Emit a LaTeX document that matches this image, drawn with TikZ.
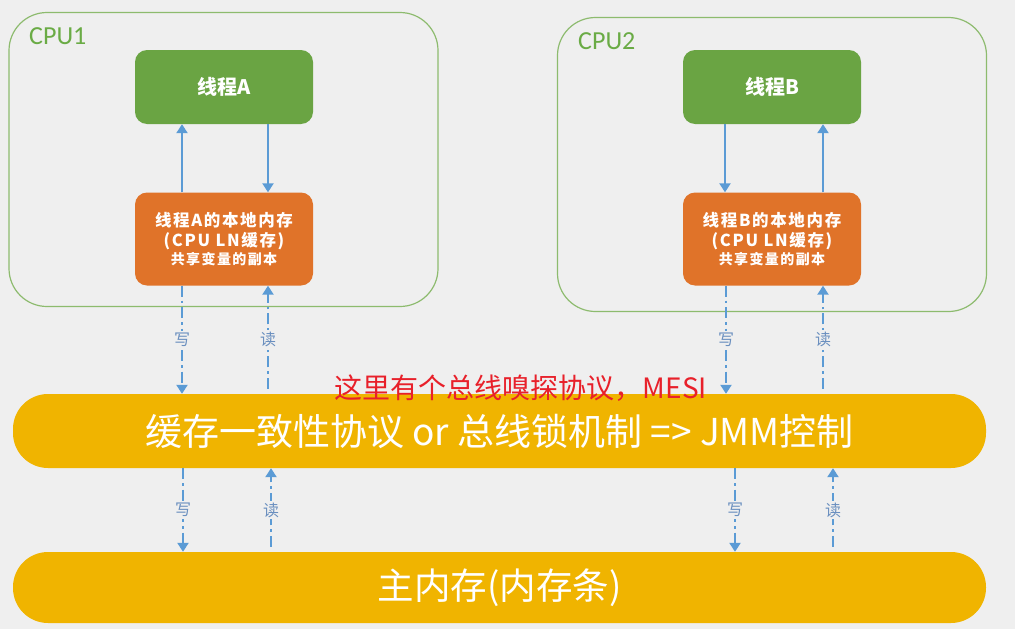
\documentclass[tikz,border=0pt]{standalone}
\usepackage{fontspec}
\setmainfont{Noto Sans CJK SC}
\newfontfamily\cpufont{Carlito}
\newfontfamily\spcfont[LetterSpace=10]{Noto Sans CJK SC}
\usetikzlibrary{arrows.meta,positioning}
\definecolor{bgray}{HTML}{EFEFEF}
\definecolor{cpuline}{HTML}{8DBB6E}
\definecolor{cpugreen}{HTML}{6AAB45}
\definecolor{thrgreen}{HTML}{6AA443}
\definecolor{locorange}{HTML}{E07329}
\definecolor{busgold}{HTML}{F0B400}
\definecolor{arrblue}{HTML}{5B9BD5}
\definecolor{lblblue}{HTML}{6A8FBF}
\definecolor{notered}{HTML}{E8202A}

\begin{document}
\begin{tikzpicture}[x=1pt,y=-1pt,
  cpu/.style={draw=cpuline,line width=1.2pt,rounded corners=38pt,minimum width=429pt,minimum height=294pt},
  cpuname/.style={anchor=west,inner sep=0pt,text=cpugreen,font=\cpufont\fontsize{26}{30}\selectfont},
  thr/.style={fill=thrgreen,rounded corners=12pt,minimum width=178pt,minimum height=74pt,text=white,font=\fontsize{20}{24}\selectfont\bfseries},
  loc/.style={fill=locorange,rounded corners=12pt,minimum width=178pt,minimum height=93pt,text=white,align=center,font=\spcfont\bfseries},
  band/.style={fill=busgold,rounded corners=35pt,minimum width=973pt,text=white},
  ln/.style={arrblue,line width=2.5pt,-{Triangle[width=11pt,length=9pt]}},
  wr/.style={ln,dash pattern=on 11pt off 4pt on 2.5pt off 4pt},
  rd/.style={wr,shorten <=5pt},
  lbl/.style={fill=bgray,text=lblblue,inner sep=2pt,font=\fontsize{16}{18}\selectfont}]
\fill[bgray] (0,0) rectangle (1015,629);
\useasboundingbox (0,0) rectangle (1015,629);

% two CPUs
\node[cpu] (cpuA) at (223.5,159.5) {};
\node[cpu] (cpuB) at (772,164.5) {};
\node[cpuname] (cpuAname) at (29,36) {CPU1};
\node[cpuname] (cpuBname) at (578,41) {CPU2};

\node[thr] (thrA) at (224,87) {线程A};
\node[thr] (thrB) at (772,87) {线程B};
\node[loc] (memA) at (224,239) {{\fontsize{16.5}{20}\selectfont 线程A的本地内存}\\[3pt]{\fontsize{16.5}{20}\selectfont (CPU LN缓存)}\\[1pt]{\fontsize{14}{20}\selectfont 共享变量的副本}};
\node[loc] (memB) at (772,239) {{\fontsize{16.5}{20}\selectfont 线程B的本地内存}\\[3pt]{\fontsize{16.5}{20}\selectfont (CPU LN缓存)}\\[1pt]{\fontsize{14}{20}\selectfont 共享变量的副本}};

\draw[ln] ([xshift=-42pt]memA.north) -- ([xshift=-42pt]thrA.south);
\draw[ln] ([xshift=44pt]thrA.south) -- ([xshift=44pt]memA.north);
\draw[ln] ([xshift=-47pt]thrB.south) -- ([xshift=-47pt]memB.north);
\draw[ln] ([xshift=51pt]memB.north) -- ([xshift=51pt]thrB.south);

% bus and main memory
\node[band,minimum height=74pt,font=\fontsize{37}{40}\selectfont] (bus) at (499.5,431) {缓存一致性协议 or 总线锁机制 => JMM控制};
\node[band,minimum height=71pt,font=\fontsize{36.5}{40}\selectfont] (mainmem) at (499.5,587.5) {主内存(内存条)};
\node[text=notered,font=\fontsize{28}{30}\selectfont] (snoop) at (521,388) {这里有个总线嗅探协议，MESI};

\coordinate (wA) at ([xshift=-42pt]memA.south);
\coordinate (rA) at ([xshift=44pt]memA.south);
\coordinate (wB) at ([xshift=-46pt]memB.south);
\coordinate (rB) at ([xshift=51pt]memB.south);
\draw[wr] (wA) -- node[lbl] {写} (bus.north -| wA);
\draw[rd] (bus.north -| rA) -- node[lbl] {读} (rA);
\draw[wr] (wB) -- node[lbl] {写} (bus.north -| wB);
\draw[rd] (bus.north -| rB) -- node[lbl] {读} (rB);

\coordinate (wA2) at ([xshift=-41pt]memA.south);
\coordinate (rA2) at ([xshift=47pt]memA.south);
\coordinate (wB2) at ([xshift=-37pt]memB.south);
\coordinate (rB2) at ([xshift=61pt]memB.south);
\draw[wr] (bus.south -| wA2) -- node[lbl] {写} (mainmem.north -| wA2);
\draw[rd] (mainmem.north -| rA2) -- node[lbl] {读} (bus.south -| rA2);
\draw[wr] (bus.south -| wB2) -- node[lbl] {写} (mainmem.north -| wB2);
\draw[rd] (mainmem.north -| rB2) -- node[lbl] {读} (bus.south -| rB2);
\end{tikzpicture}
\end{document}
